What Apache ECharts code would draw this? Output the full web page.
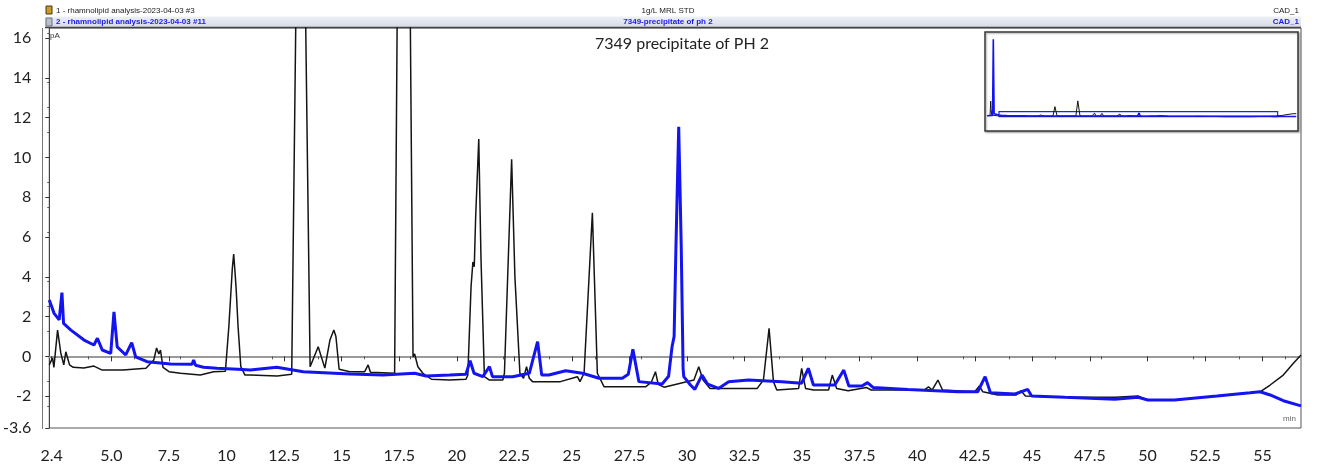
<!DOCTYPE html>
<html>
<head>
<meta charset="utf-8">
<title>7349 precipitate of PH 2</title>
<script src="https://cdn.jsdelivr.net/npm/echarts@6.0.0/dist/echarts.min.js"></script>
<style>
  html, body { margin: 0; padding: 0; background: #fff; }
  #chart { width: 1322px; height: 471px; }
</style>
</head>
<body>
<div id="chart"></div>
<script>
// 色谱图：1g/L MRL STD (黑) 与 7349-precipitate of ph 2 (蓝)

// 标准品 (trace 1, black) —— 保留时间 / 信号 pA
const stdTimes = [2.30, 2.44, 2.50, 2.66, 2.80, 2.87, 2.93, 3.02, 3.18, 3.34, 3.80, 4.24, 4.60, 5.50, 6.50,
  6.84, 6.96, 7.06, 7.13, 7.24, 7.50, 8.00, 8.86, 9.44, 9.95, 10.10, 10.25, 10.31, 10.37, 10.42, 10.50,
  10.62, 10.80, 11.03, 12.20, 12.83, 13.21, 13.63, 13.70, 13.98, 14.27, 14.49, 14.66, 14.75, 14.89, 15.36,
  16.00, 16.15, 16.25, 17.30, 17.68, 18.10, 18.17, 18.31, 18.53, 18.90, 19.69, 20.40, 20.48, 20.62, 20.70,
  20.76, 20.82, 20.955, 21.05, 21.20, 21.42, 22.00, 22.07, 22.383, 22.525, 22.57, 22.742, 22.90, 23.03,
  23.15, 23.29, 24.50, 25.24, 25.35, 25.53, 25.89, 26.106, 26.40, 28.20, 28.45, 28.63, 28.75, 29.00,
  30.30, 30.51, 30.70, 31.00, 33.05, 33.32, 33.565, 33.755, 33.90, 34.85, 34.98, 35.15, 35.50, 36.15,
  36.31, 36.50, 37.00, 37.79, 38.00, 40.30, 40.49, 40.65, 40.90, 41.10, 42.50, 42.70, 42.85, 43.50,
  44.30, 44.51, 44.70, 46.40, 48.60, 49.59, 50.02, 51.17, 53.02, 54.46, 54.89, 55.33, 55.90, 56.34, 56.67];
const stdValues = [-0.43, -0.08, -0.55, 1.32, 0.17, 0.23, -0.43, 0.23, -0.43, -0.55, -0.59, -0.49, -0.69, -0.69, -0.60,
  -0.18, 0.42, 0.12, 0.32, -0.55, -0.77, -0.85, -0.94, -0.77, -0.75, 1.50, 4.40, 5.14, 4.20, 3.33, 1.50,
  -0.52, -0.94, -0.94, -0.99, -0.90, 37, -0.52, -0.45, 0.48, -0.59, 0.82, 1.32, 1.00, -0.65, -0.77,
  -0.77, -0.43, -0.80, -0.85, 60, -0.02, 0.12, -0.52, -0.85, -1.15, -1.19, -1.15, -0.94, 3.50, 4.74,
  4.50, 7.00, 10.92, 5.00, -1.02, -1.19, -1.19, -0.85, 9.90, 4.00, 3.00, -0.85, -1.10, -0.52,
  -1.10, -1.27, -1.27, -1.02, -1.27, -0.85, 7.22, -0.85, -1.53, -1.53, -1.30, -0.77, -1.40, -1.55,
  -1.19, -0.52, -1.19, -1.61, -1.61, -1.19, 1.41, -1.27, -1.69, -1.61, -0.60, -1.61, -1.69, -1.69,
  -0.94, -1.61, -1.73, -1.56, -1.69, -1.69, -1.53, -1.69, -1.19, -1.69, -1.78, -1.49, -1.78, -1.94,
  -1.94, -1.73, -1.99, -2.06, -2.06, -1.99, -2.19, -2.19, -1.99, -1.83, -1.78, -1.44, -0.94, -0.35, 0.07];

// 样品 (trace 2, blue)
const sampleTimes = [2.30, 2.51, 2.73, 2.85, 2.92, 3.24, 3.81, 4.24, 4.39, 4.60, 4.97, 5.11, 5.25, 5.62, 5.88,
  6.05, 6.55, 7.57, 8.50, 8.57, 8.65, 9.00, 9.58, 10.50, 11.03, 12.18, 13.33, 15.36, 16.80, 18.17, 18.67,
  19.69, 20.40, 20.58, 20.75, 21.13, 21.42, 21.55, 22.43, 23.15, 23.51, 23.69, 24.00, 24.73, 25.46, 26.18,
  27.19, 27.45, 27.65, 27.91, 28.92, 29.20, 29.35, 29.44, 29.52, 29.64, 29.75, 29.83, 29.86, 30.15, 30.34,
  30.65, 30.90, 31.37, 31.81, 32.67, 34.12, 34.98, 35.27, 35.49, 36.42, 36.81, 37.03, 37.60, 37.84, 38.08,
  39.60, 41.76, 42.63, 42.95, 43.18, 44.25, 44.80, 44.97, 46.41, 48.58, 49.59, 50.02, 51.17, 53.02, 54.46,
  54.89, 55.33, 55.90, 56.67];
const sampleValues = [2.83, 2.16, 1.83, 3.20, 1.66, 1.32, 0.82, 0.57, 0.91, 0.32, 0.15, 2.24, 0.48, 0.07, 0.69,
  -0.02, -0.27, -0.38, -0.40, -0.18, -0.45, -0.55, -0.60, -0.65, -0.69, -0.55, -0.77, -0.89, -0.94, -0.85, -0.99,
  -0.94, -0.90, -0.22, -0.85, -1.02, -0.52, -1.02, -1.02, -0.85, 0.74, -0.94, -0.94, -0.72, -0.85, -1.10,
  -1.10, -0.90, 0.35, -1.27, -1.39, -1.00, 0.48, 1.00, 5.50, 11.54, 5.50, -0.60, -1.02, -1.44, -1.66,
  -0.94, -1.40, -1.61, -1.27, -1.19, -1.27, -1.35, -0.60, -1.44, -1.44, -0.69, -1.49, -1.49, -1.32, -1.56,
  -1.66, -1.78, -1.78, -1.02, -1.83, -1.89, -1.66, -1.99, -2.06, -2.16, -2.06, -2.19, -2.19, -1.99, -1.83,
  -1.78, -1.94, -2.23, -2.49];

// 缩略图：进样峰 (0–2.3 min) 与 尾段 (56.7–60 min)
const stdHeadTimes = [0, 0.55, 0.62, 0.68, 0.76, 0.90, 1.50, 2.00];
const stdHeadValues = [0.5, 1.0, 30, 59, 25, 3.0, 1.0, 0.2];
const stdTailTimes = [57.5, 58.5, 59.5, 60.3];
const stdTailValues = [1.5, 5.0, 8.0, 9.0];
const sampleHeadTimes = [0, 1.05, 1.19, 1.35, 1.70];
const sampleHeadValues = [0, 2.0, 308, 8.0, 4.0];
const sampleTailTimes = [57.5, 58.5, 60.3];
const sampleTailValues = [-2.7, -2.9, -3.0];

// 坐标轴刻度标签
const xLabelValues = [2.4, 5, 7.5, 10, 12.5, 15, 17.5, 20, 22.5, 25, 27.5, 30, 32.5, 35, 37.5, 40, 42.5, 45, 47.5, 50, 52.5, 55];
const yLabelValues = [-3.6, -2, 0, 2, 4, 6, 8, 10, 12, 14, 16];

// 图例 / 标题文字
const traceNames = ['1g/L MRL STD', '7349-precipitate of ph 2'];
const runNames = ['1 - rhamnolipid analysis-2023-04-03 #3', '2 - rhamnolipid analysis-2023-04-03 #11'];
const channelName = 'CAD_1';
const chartTitle = '7349 precipitate of PH 2';

const zip = (ts, vs) => ts.map((t, i) => [t, vs[i]]);

const stdTrace = zip(stdTimes, stdValues);
const sampleTrace = zip(sampleTimes, sampleValues);
const stdOverview = zip(stdHeadTimes, stdHeadValues).concat(stdTrace, zip(stdTailTimes, stdTailValues));
const sampleOverview = zip(sampleHeadTimes, sampleHeadValues).concat(sampleTrace, zip(sampleTailTimes, sampleTailValues));

const BLACK = '#141414';
const BLUE = '#1414f0';
const labelFont = 'Lato, "Open Sans", sans-serif';
const smallFont = '"Liberation Sans", Arial, sans-serif';

function renderChromatogram() {
  const chart = echarts.init(document.getElementById('chart'), null, { renderer: 'canvas' });

  const option = {
    backgroundColor: '#fff',
    animation: false,
    grid: [
      {
        left: 45, right: 21, top: 28, bottom: 43,
        show: true, borderColor: '#555', borderWidth: 1
      },
      {
        // 右上角缩略图
        left: 985, top: 32, width: 313, height: 99,
        show: true, backgroundColor: '#fff', borderColor: '#3a3a3a', borderWidth: 1.5,
        shadowColor: 'rgba(0,0,0,0.35)', shadowBlur: 2, shadowOffsetX: 1, shadowOffsetY: 1
      }
    ],
    xAxis: [
      {
        type: 'value', gridIndex: 0, min: 2.3, max: 56.67,
        splitLine: { show: false },
        axisLine: { lineStyle: { color: '#9a9a9a', width: 2 } },
        axisTick: { customValues: xLabelValues, length: 5, lineStyle: { color: '#333' } },
        minorTick: { show: true, splitNumber: 5, length: 3, lineStyle: { color: '#555' } },
        axisLabel: {
          customValues: xLabelValues,
          formatter: v => (v === 5 ? '5.0' : String(v)),
          margin: 20, color: '#222', fontSize: 16, fontFamily: labelFont
        }
      },
      { type: 'value', gridIndex: 1, min: -0.43, max: 60.64, show: false }
    ],
    yAxis: [
      {
        type: 'value', gridIndex: 0, min: -3.6, max: 16.5,
        splitLine: { show: false },
        axisLine: { show: true, lineStyle: { color: '#444', width: 1 } },
        axisTick: { customValues: yLabelValues, length: 4, lineStyle: { color: '#333' } },
        minorTick: { show: true, splitNumber: 4, length: 2, lineStyle: { color: '#555' } },
        axisLabel: {
          customValues: yLabelValues,
          margin: 18, color: '#222', fontSize: 16, fontFamily: labelFont
        }
      },
      { type: 'value', gridIndex: 1, min: -61, max: 337, show: false }
    ],
    series: [
      {
        name: traceNames[0], type: 'line', xAxisIndex: 0, yAxisIndex: 0,
        data: stdTrace, showSymbol: false, symbol: 'none',
        lineStyle: { color: BLACK, width: 1.5 }, z: 2
      },
      {
        name: traceNames[1], type: 'line', xAxisIndex: 0, yAxisIndex: 0,
        data: sampleTrace, showSymbol: false, symbol: 'none',
        lineStyle: { color: BLUE, width: 3 }, z: 3
      },
      {
        name: traceNames[0] + ' (overview)', type: 'line', xAxisIndex: 1, yAxisIndex: 1,
        data: stdOverview, showSymbol: false, symbol: 'none',
        lineStyle: { color: BLACK, width: 1 }, z: 4
      },
      {
        name: traceNames[1] + ' (overview)', type: 'line', xAxisIndex: 1, yAxisIndex: 1,
        data: sampleOverview, showSymbol: false, symbol: 'none',
        lineStyle: { color: BLUE, width: 1.6 }, z: 5,
        // 主图可视范围框
        markArea: {
          silent: true,
          itemStyle: { color: 'rgba(0,0,0,0)', borderColor: '#2020ff', borderWidth: 1.2 },
          data: [[{ coord: [2.3, -3.6] }, { coord: [56.67, 16.5] }]]
        }
      }
    ],
    graphic: [
      // 顶部色谱信息条
      { type: 'rect', shape: { x: 45, y: 16.5, width: 1256, height: 11 }, silent: true,
        style: { fill: new echarts.graphic.LinearGradient(0, 0, 0, 1, [
          { offset: 0, color: '#eef0f6' }, { offset: 1, color: '#d6dae6' }]) } },
      { type: 'line', shape: { x1: 45, y1: 27.5, x2: 1301, y2: 27.5 }, silent: true,
        style: { stroke: '#444', lineWidth: 1.5 } },
      { type: 'rect', shape: { x: 46, y: 6, width: 6, height: 8 }, silent: true,
        style: { fill: '#c89a2a', stroke: '#4a3a10', lineWidth: 1 } },
      { type: 'rect', shape: { x: 46, y: 18, width: 6, height: 8 }, silent: true,
        style: { fill: '#b8c0cc', stroke: '#6a7280', lineWidth: 1 } },
      { type: 'text', x: 56, y: 11, silent: true,
        style: { text: runNames[0], fill: '#222', font: '8px ' + smallFont, verticalAlign: 'middle' } },
      { type: 'text', x: 668, y: 11, silent: true,
        style: { text: traceNames[0], fill: '#222', font: '8px ' + smallFont, align: 'center', verticalAlign: 'middle' } },
      { type: 'text', x: 1299, y: 11, silent: true,
        style: { text: channelName, fill: '#222', font: '8px ' + smallFont, align: 'right', verticalAlign: 'middle' } },
      { type: 'text', x: 56, y: 22, silent: true,
        style: { text: runNames[1], fill: '#1a1ae6', font: 'bold 8px ' + smallFont, verticalAlign: 'middle' } },
      { type: 'text', x: 668, y: 22, silent: true,
        style: { text: traceNames[1], fill: '#1a1ae6', font: 'bold 8px ' + smallFont, align: 'center', verticalAlign: 'middle' } },
      { type: 'text', x: 1299, y: 22, silent: true,
        style: { text: channelName, fill: '#1a1ae6', font: 'bold 8px ' + smallFont, align: 'right', verticalAlign: 'middle' } },
      // 左侧双线框
      { type: 'line', shape: { x1: 42.5, y1: 28, x2: 42.5, y2: 429 }, silent: true,
        style: { stroke: '#777', lineWidth: 1 } },
      // 单位
      { type: 'text', x: 50, y: 36, silent: true,
        style: { text: 'pA', fill: '#333', font: '8px ' + smallFont, verticalAlign: 'middle' } },
      { type: 'text', x: 1296, y: 419, silent: true,
        style: { text: 'min', fill: '#666', font: '8px ' + smallFont, align: 'right', verticalAlign: 'middle' } },
      // 标题
      { type: 'text', x: 682, y: 44, silent: true,
        style: { text: chartTitle, fill: '#222', font: '16px ' + labelFont, align: 'center', verticalAlign: 'middle' } }
    ]
  };

  chart.setOption(option);
  window.addEventListener('resize', () => chart.resize());
}

renderChromatogram();
</script>
</body>
</html>
